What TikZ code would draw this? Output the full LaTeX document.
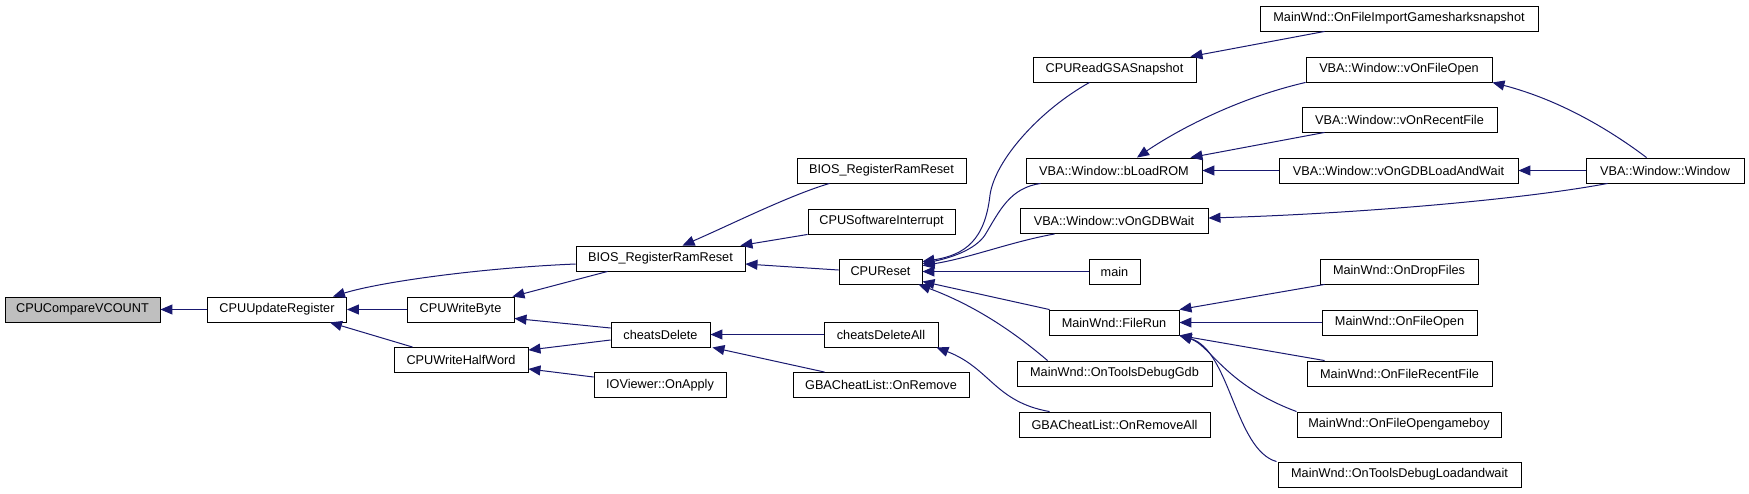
\documentclass[tikz,border=0pt]{standalone}
\usepackage{fontspec}
\setmainfont{Liberation Sans}
\usetikzlibrary{arrows.meta}
\definecolor{edgecol}{HTML}{191970}
\begin{document}
\begin{tikzpicture}[x=1pt,y=-1pt,
  box/.style={draw=black, line width=0.9pt, fill=white, minimum height=25pt, inner sep=0pt, font=\fontsize{12.7}{15}\selectfont},
  e/.style={draw=edgecol, line width=1pt, {Triangle[length=12pt,width=10pt]}-}]
\useasboundingbox[fill=white] (0,0) rectangle (1749,493);
% nodes
\node[box, fill={rgb,255:red,191;green,191;blue,191}, minimum width=155pt] (vcount) at (82.5,309.5) {CPUCompareVCOUNT};
\node[box, minimum width=139pt] (upd) at (277,309.5) {CPUUpdateRegister};
\node[box, minimum width=107pt] (wbyte) at (460.5,309.5) {CPUWriteByte};
\node[box, minimum width=134pt] (whalf) at (461,360) {CPUWriteHalfWord};
\node[box, minimum width=169pt] (biosm) at (660.5,258.5) {BIOS\_RegisterRamReset};
\node[box, minimum width=169pt] (biost) at (881.5,170.5) {BIOS\_RegisterRamReset};
\node[box, minimum width=147pt] (swi) at (881.5,221.5) {CPUSoftwareInterrupt};
\node[box, minimum width=83pt] (cpureset) at (880.5,271.5) {CPUReset};
\node[box, minimum width=99pt] (cdel) at (660.5,334.5) {cheatsDelete};
\node[box, minimum width=132pt] (ioview) at (660,385) {IOViewer::OnApply};
\node[box, minimum width=114pt] (cdelall) at (881,334.5) {cheatsDeleteAll};
\node[box, minimum width=176pt] (onremove) at (881,385) {GBACheatList::OnRemove};
\node[box, minimum width=278pt] (import) at (1399,18.5) {MainWnd::OnFileImportGamesharksnapshot};
\node[box, minimum width=163pt] (gsa) at (1114.5,69.5) {CPUReadGSASnapshot};
\node[box, minimum width=186pt] (vfopen) at (1399,69.5) {VBA::Window::vOnFileOpen};
\node[box, minimum width=195pt] (vrecent) at (1399.5,119.5) {VBA::Window::vOnRecentFile};
\node[box, minimum width=176pt] (bload) at (1114,170.5) {VBA::Window::bLoadROM};
\node[box, minimum width=239pt] (vgdblw) at (1398.5,170.5) {VBA::Window::vOnGDBLoadAndWait};
\node[box, minimum width=188pt] (vgdbw) at (1114,221) {VBA::Window::vOnGDBWait};
\node[box, minimum width=158pt] (window) at (1665,170.5) {VBA::Window::Window};
\node[box, minimum width=51pt] (main) at (1114.5,271.5) {main};
\node[box, minimum width=130pt] (filerun) at (1114,322.5) {MainWnd::FileRun};
\node[box, minimum width=195pt] (toolsgdb) at (1114.5,373.5) {MainWnd::OnToolsDebugGdb};
\node[box, minimum width=191pt] (removeall) at (1114.5,424.5) {GBACheatList::OnRemoveAll};
\node[box, minimum width=158pt] (dropfiles) at (1399,271.5) {MainWnd::OnDropFiles};
\node[box, minimum width=155pt] (fileopen) at (1399.5,322.5) {MainWnd::OnFileOpen};
\node[box, minimum width=185pt] (recentfile) at (1399.5,373.5) {MainWnd::OnFileRecentFile};
\node[box, minimum width=204pt] (opengb) at (1399,424.5) {MainWnd::OnFileOpengameboy};
\node[box, minimum width=243pt] (loadwait) at (1399.5,474.5) {MainWnd::OnToolsDebugLoadandwait};
% edges (arrow at callee)
\draw[e] (vcount.east) -- (upd.west);
\draw[e] (upd.east) -- (wbyte.west);
\draw[e] ([xshift=-17pt]upd.south east) -- ([xshift=19pt]whalf.north west);
\draw[e] ([xshift=-14pt]upd.north east) .. controls (380,282) and (480,268) .. ([yshift=-5.5pt]biosm.west);
\draw[e] ([xshift=-2pt]wbyte.north east) -- ([xshift=32pt]biosm.south west);
\draw[e] ([yshift=4pt]wbyte.south east) -- ([yshift=6.5pt]cdel.west);
\draw[e] ([yshift=-3pt]whalf.north east) -- ([yshift=-5.5pt]cdel.west);
\draw[e] ([yshift=4pt]whalf.south east) -- ([yshift=8pt]ioview.west);
\draw[e] ([xshift=22pt]biosm.north) .. controls (730,225) and (790,195) .. ([xshift=33pt]biost.south west);
\draw[e] ([xshift=-5pt]biosm.north east) -- (swi.south west);
\draw[e] ([yshift=-5.5pt]biosm.east) -- ([yshift=1.5pt]cpureset.west);
\draw[e] (cdel.east) -- (cdelall.west);
\draw[e] ([xshift=2pt]cdel.south east) -- ([xshift=32pt]onremove.north west);
\draw[e] ([xshift=-2pt]cdelall.south east) .. controls (990,368) and (995,402) .. ([xshift=31pt]removeall.north west);
\draw[e] ([yshift=-3pt]cpureset.north east) .. controls (965,255) and (985,240) .. (990,195) .. controls (995,160) and (1040,110) .. ([xshift=57pt]gsa.south west);
\draw[e] ([yshift=-5pt]cpureset.north east) .. controls (950,258) and (975,250) .. (985,235) .. controls (1000,210) and (1010,188) .. ([xshift=15pt]bload.south west);
\draw[e] ([yshift=-7pt]cpureset.north east) .. controls (970,258) and (1010,242) .. ([xshift=35pt]vgdbw.south west);
\draw[e] (cpureset.east) -- (main.west);
\draw[e] ([yshift=3pt]cpureset.south east) -- ([xshift=1pt]filerun.north west);
\draw[e] ([xshift=-4pt]cpureset.south east) .. controls (960,300) and (1000,320) .. ([xshift=31pt]toolsgdb.north west);
\draw[e] ([xshift=23pt]bload.north) .. controls (1170,135) and (1230,100) .. (vfopen.south west);
\draw[e] ([xshift=-12pt]bload.north east) -- ([xshift=23pt]vrecent.south west);
\draw[e] (bload.east) -- (vgdblw.west);
\draw[e] (vfopen.south east) .. controls (1560,100) and (1610,130) .. ([xshift=61pt]window.north west);
\draw[e] (vgdblw.east) -- (window.west);
\draw[e] ([yshift=3pt]vgdbw.east) .. controls (1350,214) and (1520,200) .. ([xshift=22pt]window.south west);
\draw[e] ([xshift=-6pt]gsa.north east) -- ([xshift=65pt]import.south west);
\draw[e] (filerun.north east) -- ([xshift=5pt]dropfiles.south west);
\draw[e] (filerun.east) -- (fileopen.west);
\draw[e] (filerun.south east) -- ([xshift=18pt]recentfile.north west);
\draw[e] (filerun.south east) .. controls (1210,345) and (1225,385) .. (opengb.north west);
\draw[e] (filerun.south east) .. controls (1230,350) and (1235,450) .. ([xshift=-1pt]loadwait.north west);
\end{tikzpicture}
\end{document}
